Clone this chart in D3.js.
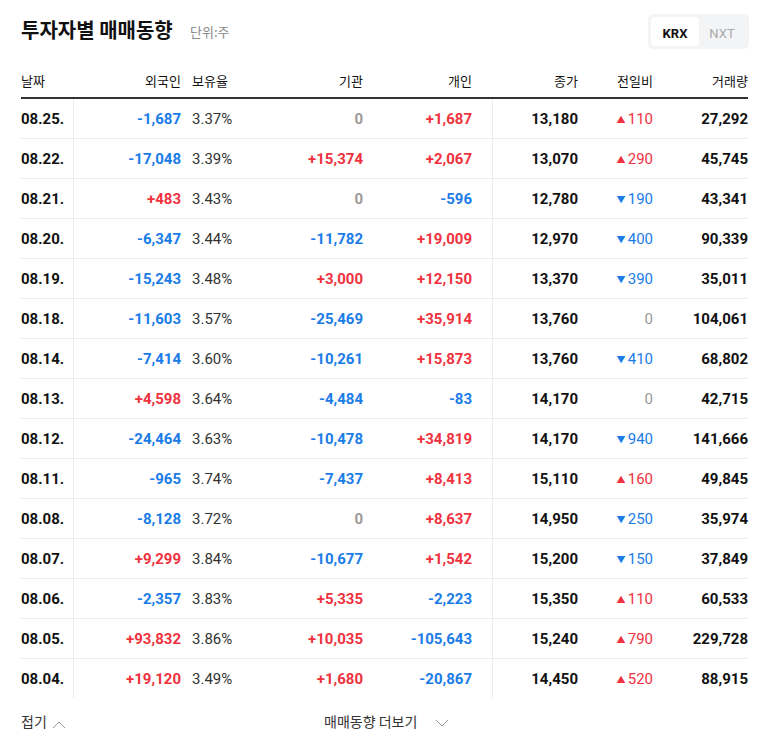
<!DOCTYPE html>
<html><head><meta charset="utf-8">
<script src="https://cdn.jsdelivr.net/npm/d3@7"></script>
<style>body{margin:0;background:#fff;font-family:Roboto,"Noto Sans CJK KR",sans-serif;}</style>
</head><body><div id="chart"></div>
<script>
var dates = ["08.25.","08.22.","08.21.","08.20.","08.19.","08.18.","08.14.","08.13.","08.12.","08.11.","08.08.","08.07.","08.06.","08.05.","08.04."];
var foreign = [-1687,-17048,483,-6347,-15243,-11603,-7414,4598,-24464,-965,-8128,9299,-2357,93832,19120];
var holding = ["3.37%","3.39%","3.43%","3.44%","3.48%","3.57%","3.60%","3.64%","3.63%","3.74%","3.72%","3.84%","3.83%","3.86%","3.49%"];
var inst = [0,15374,0,-11782,3000,-25469,-10261,-4484,-10478,-7437,0,-10677,5335,10035,1680];
var indiv = [1687,2067,-596,19009,12150,35914,15873,-83,34819,8413,8637,1542,-2223,-105643,-20867];
var close = [13180,13070,12780,12970,13370,13760,13760,14170,14170,15110,14950,15200,15350,15240,14450];
var change = [110,290,-190,-400,-390,0,-410,0,-940,160,-250,-150,110,790,520];
var volume = [27292,45745,43341,90339,35011,104061,68802,42715,141666,49845,35974,37849,60533,229728,88915];
var headers = ["날짜","외국인","보유율","기관","개인","종가","전일비","거래량"];

var w = 768, h = 749;
var svg = d3.select("#chart").append("svg").attr("width", w).attr("height", h);
var y = d3.scaleBand().domain(d3.range(dates.length)).range([98, 698]);
var fmt = d3.format(",");
var RED = "#f0313e", BLUE = "#1b7ce8", GRAY = "#9a9a9a", DARK = "#111";
function sgn(v) { return v > 0 ? "+" + fmt(v) : fmt(v).replace("−", "-"); }
function col(v) { return v > 0 ? RED : v < 0 ? BLUE : GRAY; }

svg.append("text").attr("x", 21).attr("y", 38).attr("font-size", 20).attr("font-weight", 700)
    .attr("font-family", "'Noto Sans CJK KR'").attr("fill", DARK).text("투자자별 매매동향");
svg.append("text").attr("x", 190).attr("y", 37).attr("font-size", 13)
    .attr("font-family", "'Noto Sans CJK KR'").attr("fill", "#888").text("단위:주");
svg.append("rect").attr("x", 648).attr("y", 14).attr("width", 101).attr("height", 35).attr("rx", 5).attr("fill", "#f3f4f6");
svg.append("rect").attr("x", 651).attr("y", 17).attr("width", 48).attr("height", 29).attr("rx", 4).attr("fill", "#fff");
svg.append("text").attr("x", 675).attr("y", 38).attr("text-anchor", "middle").attr("font-size", 13).attr("font-weight", 700).attr("fill", DARK).text("KRX");
svg.append("text").attr("x", 722).attr("y", 38).attr("text-anchor", "middle").attr("font-size", 13).attr("fill", "#aaa").text("NXT");

// column definitions: x, anchor
var cols = [
  {x: 21, a: "start"}, {x: 181, a: "end"}, {x: 192, a: "start"}, {x: 363, a: "end"},
  {x: 472, a: "end"}, {x: 578, a: "end"}, {x: 653, a: "end"}, {x: 748, a: "end"}
];
svg.selectAll(".hd").data(headers).enter().append("text")
    .attr("x", function(d, i) { return cols[i].x; }).attr("y", 86)
    .attr("text-anchor", function(d, i) { return cols[i].a; })
    .attr("font-size", 13).attr("font-family", "'Noto Sans CJK KR'").attr("fill", DARK).text(function(d) { return d; });

svg.append("line").attr("x1", 21).attr("x2", 748).attr("y1", 98).attr("y2", 98).attr("stroke", "#333").attr("stroke-width", 2);
svg.selectAll(".sep").data(d3.range(1, dates.length)).enter().append("line")
    .attr("x1", 21).attr("x2", 748).attr("y1", function(i) { return y(i) + 0.5; }).attr("y2", function(i) { return y(i) + 0.5; })
    .attr("stroke", "#ececec");
[73.5, 492.5].forEach(function(x) {
  svg.append("line").attr("x1", x).attr("x2", x).attr("y1", 99).attr("y2", 698).attr("stroke", "#ececec");
});

var rows = svg.selectAll(".row").data(dates).enter().append("g")
    .attr("transform", function(d, i) { return "translate(0," + (y(i) + y.bandwidth() / 2 + 5.5) + ")"; })
    .attr("font-size", 15);
rows.each(function(d, i) {
  var g = d3.select(this);
  function t(c, txt, fill, bold) {
    return g.append("text").attr("x", cols[c].x).attr("text-anchor", cols[c].a)
      .attr("fill", fill).attr("font-weight", bold ? 700 : 400).text(txt);
  }
  t(0, d, DARK, true);
  t(1, sgn(foreign[i]), col(foreign[i]), true);
  t(2, holding[i], "#333", false);
  t(3, sgn(inst[i]), col(inst[i]), true);
  t(4, sgn(indiv[i]), col(indiv[i]), true);
  t(5, fmt(close[i]), DARK, true);
  var c = change[i];
  t(6, (c > 0 ? "▲" : c < 0 ? "▼" : "") + fmt(Math.abs(c)), col(c), false);
  g.select("text:last-child").select(function() { return this; });
  t(7, fmt(volume[i]), DARK, true);
});
// shrink arrows
rows.selectAll("text").filter(function() { return /[▲▼]/.test(this.textContent); }).each(function() {
  var s = d3.select(this), txt = this.textContent;
  s.text(null);
  s.append("tspan").attr("font-size", 9).attr("dy", -1).text(txt[0] + " ");
  s.append("tspan").attr("dy", 1).text(txt.slice(1));
});

svg.append("text").attr("x", 21).attr("y", 727).attr("font-size", 14).attr("font-family", "'Noto Sans CJK KR'").attr("fill", "#333").text("접기");
svg.append("path").attr("d", "M53,728 l6,-6 l6,6").attr("fill", "none").attr("stroke", "#999");
svg.append("text").attr("x", 324).attr("y", 727).attr("font-size", 14).attr("font-family", "'Noto Sans CJK KR'").attr("fill", "#333").text("매매동향 더보기");
svg.append("path").attr("d", "M436,720 l6,6 l6,-6").attr("fill", "none").attr("stroke", "#999");
</script></body></html>
